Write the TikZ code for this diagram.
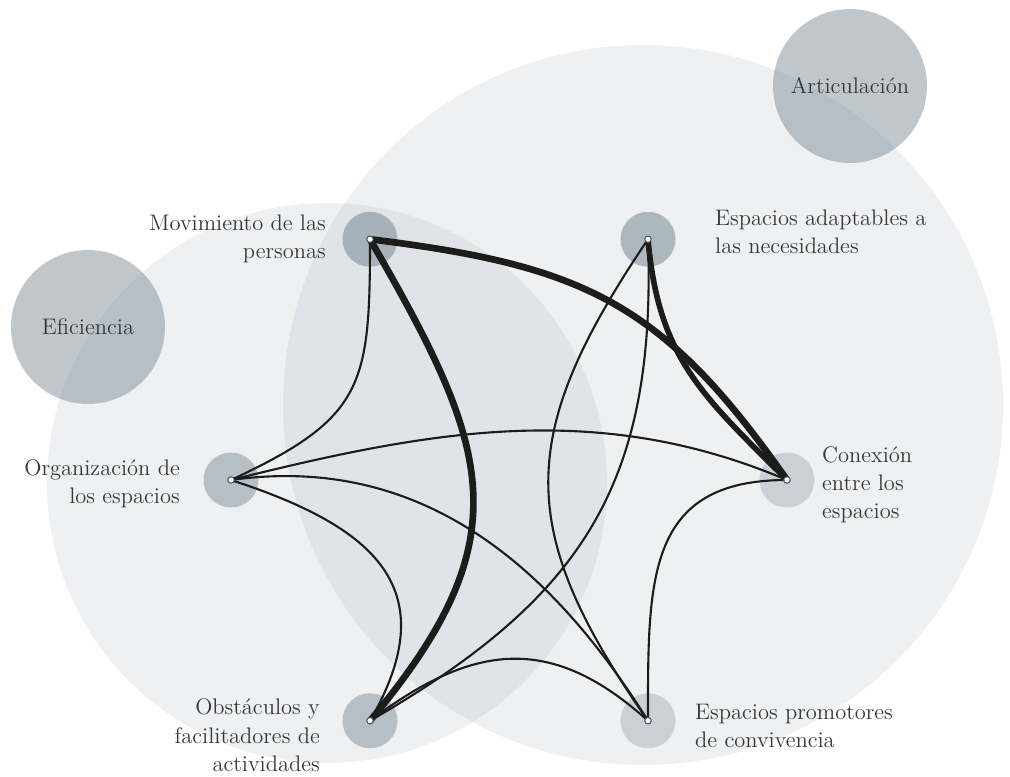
\documentclass[tikz,border=0pt]{standalone}
\usepackage{tikz}
\usetikzlibrary{positioning}
\definecolor{myink}{RGB}{28,28,26}
\definecolor{mytext}{RGB}{55,55,55}
\definecolor{myslate}{RGB}{119,136,147}
\definecolor{mymist}{RGB}{170,180,190}
\definecolor{myrim}{RGB}{70,88,102}
\newcommand{\lblfont}{\fontsize{12.8}{16}\selectfont}
\tikzset{
  field/.style={fill=mymist, fill opacity=0.2},
  theme/.style={circle, fill=myslate, fill opacity=0.47, text opacity=1,
    text=mytext, font=\lblfont, minimum size=3.08cm, inner sep=0pt},
  halo/.style={circle, fill=myslate, fill opacity=#1, minimum size=1.1cm, inner sep=0pt},
  dot/.style={circle, fill=white, draw=myrim, line width=0.6pt,
    minimum size=0.13cm, inner sep=0pt},
  lbl/.style={text=mytext, font=\lblfont, inner sep=0pt},
  edge/.style={color=myink, line width=1.2pt},
  heavy/.style={color=myink, line width=#1}
}

\begin{document}
\begin{tikzpicture}
  \useasboundingbox (0,0) rectangle (20.2,15.52);

  % fields
  \fill[field] (6.54,5.86) circle (5.6);
  \fill[field] (12.86,7.42) circle (7.2);
  \node[theme] (efic) at (1.76,8.98) {Eficiencia};
  \node[theme] (artic) at (17.0,13.8) {Articulación};

  % hubs
  \coordinate (hub) at (10.18,5.92);
  \node[halo=0.55] (movh)   at ([shift={(120:5.56)}]hub) {};
  \node[halo=0.55] (adapth) at ([shift={(60:5.56)}]hub) {};
  \node[halo=0.3]  (conh)   at ([shift={(0:5.56)}]hub) {};
  \node[halo=0.3]  (promh)  at ([shift={(-60:5.56)}]hub) {};
  \node[halo=0.47] (obsth)  at ([shift={(-120:5.56)}]hub) {};
  \node[halo=0.47] (orgh)   at ([shift={(180:5.56)}]hub) {};

  % links
  \draw[heavy=3.8pt] (movh.center) to[out=-7, in=125, looseness=1.15] (conh.center);
  \draw[heavy=3.2pt] (adapth.center) to[out=-85, in=135, looseness=1.1] (conh.center);
  \draw[heavy=3.8pt] (movh.center) to[out=-60, in=50, looseness=1.28] (obsth.center);
  \draw[edge] (movh.center) to[out=-90, in=25, looseness=1.35] (orgh.center);
  \draw[edge] (orgh.center) to[out=14, in=157, looseness=0.95] (conh.center);
  \draw[edge] (orgh.center) to[out=8, in=122, looseness=1] (promh.center);
  \draw[edge] (orgh.center) to[out=-18, in=60, looseness=1.4] (obsth.center);
  \draw[edge] (adapth.center) to[out=-88, in=30, looseness=1.13] (obsth.center);
  \draw[edge] (adapth.center) to[out=-124, in=125, looseness=1.25] (promh.center);
  \draw[edge] (obsth.center) to[out=37, in=138, looseness=1.2] (promh.center);
  \draw[edge] (conh.center) to[out=180, in=90, looseness=1.3] (promh.center);

  \foreach \n in {movh,adapth,conh,promh,obsth,orgh}
    \node[dot] (dot-\n) at (\n) {};

  % labels
  \node[lbl, align=right, left=0.32cm of movh] (movl) {Movimiento de las\\personas};
  \node[lbl, align=left, right=0.78cm of adapth, yshift=0.15cm] (adaptl) {Espacios adaptables a\\las necesidades};
  \node[lbl, align=left, right=0.14cm of conh, yshift=-0.1cm] (conl) {Conexión\\entre los\\espacios};
  \node[lbl, align=left, right=0.38cm of promh, yshift=-0.1cm] (proml) {Espacios promotores\\de convivencia};
  \node[lbl, align=right, left=0.44cm of obsth, yshift=-0.29cm] (obstl) {Obstáculos y\\facilitadores de\\actividades};
  \node[lbl, align=right, left=0.46cm of orgh, yshift=-0.08cm] (orgl) {Organización de\\los espacios};
\end{tikzpicture}
\end{document}
